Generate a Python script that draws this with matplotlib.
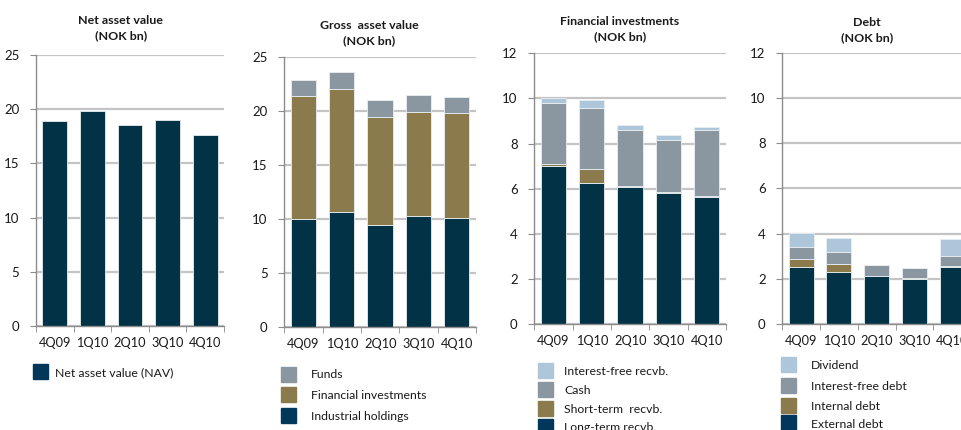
import matplotlib
matplotlib.use("Agg")
import matplotlib.pyplot as plt
from matplotlib.patches import Rectangle
import numpy as np

plt.rcParams['font.family'] = ['Lato', 'DejaVu Sans']

quarters = ["4Q09", "1Q10", "2Q10", "3Q10", "4Q10"]

# Net asset value
nav = [18.9, 19.8, 18.5, 19.0, 17.6]

# Gross asset value
gav_industrial = [10.0, 10.7, 9.5, 10.3, 10.1]
gav_financial = [11.4, 11.4, 10.0, 9.6, 9.7]
gav_funds = [1.5, 1.5, 1.55, 1.6, 1.55]

# Financial investments
fi_longterm = [7.0, 6.25, 6.07, 5.82, 5.64]
fi_shortterm = [0.1, 0.62, 0.04, 0.03, 0.02]
fi_cash = [2.7, 2.7, 2.5, 2.3, 2.95]
fi_interestfree = [0.22, 0.34, 0.21, 0.22, 0.12]

# Debt
debt_external = [2.5, 2.3, 2.1, 2.0, 2.53]
debt_internal = [0.38, 0.37, 0.03, 0.03, 0.04]
debt_interestfree = [0.54, 0.53, 0.46, 0.45, 0.45]
debt_dividend = [0.59, 0.59, 0.0, 0.0, 0.73]

C_DARK = "#023246"
C_DARK_LEG = "#00375a"
C_OLIVE = "#8b7a4b"
C_GRAY = "#8a96a0"
C_LIGHT = "#adc6d9"
GRID = "#c4c4c4"
SPINE = "#8c8c8c"
TXT = "#1a1a1a"

W, H = 961, 430
fig = plt.figure(figsize=(W / 100, H / 100), dpi=100)


def ax_at(x0, x1, ytop, ybot):
    return fig.add_axes([x0 / W, 1 - ybot / H, (x1 - x0) / W, (ybot - ytop) / H])


def style(ax, ymax, step):
    ax.set_xlim(-0.5, 4.5)
    ax.set_ylim(0, ymax)
    ax.set_yticks(np.arange(0, ymax + 0.01, step))
    ax.yaxis.grid(True, color=GRID, linewidth=1.6)
    ax.set_axisbelow(True)
    for s in ["top", "right"]:
        ax.spines[s].set_visible(False)
    for s in ["left", "bottom"]:
        ax.spines[s].set_color(SPINE)
        ax.spines[s].set_linewidth(1.0)
    ax.set_xticks(range(5))
    ax.set_xticklabels(quarters)
    ax.set_xticks(np.arange(-0.5, 5, 1), minor=True)
    ax.tick_params(axis="x", which="major", length=0, pad=8, labelsize=9.2, colors=TXT)
    ax.tick_params(axis="x", which="minor", length=4, color=SPINE, direction="out")
    ax.tick_params(axis="y", length=4, color=SPINE, pad=8, labelsize=9.5, colors=TXT)


def stack(ax, series, colors):
    x = np.arange(len(quarters))
    bottom = np.zeros(len(quarters))
    for vals, col in zip(series, colors):
        ax.bar(x, vals, width=0.66, bottom=bottom, color=col,
               edgecolor="#e8eef2", linewidth=0.6)
        bottom += np.array(vals)


def legend(x, ys, labels, colors, tx):
    for y, lab, col in zip(ys, labels, colors):
        fig.patches.append(Rectangle((x / W, 1 - (y + 15) / H), 15 / W, 15 / H,
                                     transform=fig.transFigure, color=col, zorder=5))
        fig.text(tx / W, 1 - (y + 8.5) / H, lab, fontsize=8.8, color=TXT,
                 va="center", ha="left")


def title(cx, y, text):
    fig.text(cx / W, 1 - y / H, text, fontsize=8.9, fontweight="bold",
             ha="center", va="center", color=TXT, linespacing=1.4)


# Panel 1
ax1 = ax_at(36, 224, 55, 326)
style(ax1, 25, 5)
ax1.bar(range(5), nav, width=0.66, color=C_DARK, edgecolor="#e8eef2", linewidth=0.6)
title(121, 28, "Net asset value\n(NOK bn)")
legend(33, [364], ["Net asset value (NAV)"], [C_DARK_LEG], 55)

# Panel 2
ax2 = ax_at(284.3, 476, 57.3, 327.3)
style(ax2, 25, 5)
stack(ax2, [gav_industrial, gav_financial, gav_funds], [C_DARK, C_OLIVE, C_GRAY])
title(369, 33, "Gross  asset value\n(NOK bn)")
legend(281, [366.5, 387, 408], ["Funds", "Financial investments", "Industrial holdings"],
       [C_GRAY, C_OLIVE, C_DARK_LEG], 311)

# Panel 3
ax3 = ax_at(534.3, 726, 53.3, 324)
style(ax3, 12, 2)
stack(ax3, [fi_longterm, fi_shortterm, fi_cash, fi_interestfree],
      [C_DARK, C_OLIVE, C_GRAY, C_LIGHT])
title(620, 29, "Financial investments\n(NOK bn)")
legend(537.7, [362.7, 381.7, 400.7, 419.3],
       ["Interest-free recvb.", "Cash", "Short-term  recvb.", "Long-term recvb."],
       [C_LIGHT, C_GRAY, C_OLIVE, C_DARK_LEG], 564.3)

# Panel 4
ax4 = ax_at(782.3, 971, 53.3, 323.7)
style(ax4, 12, 2)
stack(ax4, [debt_external, debt_internal, debt_interestfree, debt_dividend],
      [C_DARK, C_OLIVE, C_GRAY, C_LIGHT])
title(866.7, 30, "Debt\n(NOK bn)")
legend(781, [356.7, 377.7, 397.7, 415.5],
       ["Dividend", "Interest-free debt", "Internal debt", "External debt"],
       [C_LIGHT, C_GRAY, C_OLIVE, C_DARK_LEG], 811)

fig.savefig("out.png", dpi=100)
